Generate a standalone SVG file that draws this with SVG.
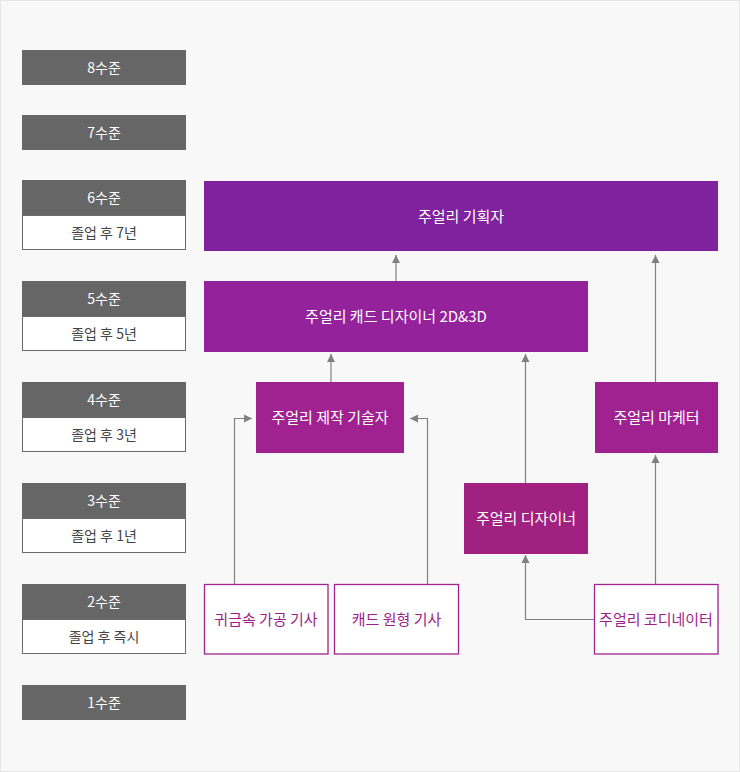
<svg xmlns="http://www.w3.org/2000/svg" width="740" height="772" viewBox="0 0 740 772">
<defs>
<style>
text{font-family:"Noto Sans CJK KR","Noto Sans",sans-serif;text-anchor:middle}
.lvh{fill:#666666}
.lvb{fill:#ffffff;stroke:#6a6a6a;stroke-width:1}
.lvt{fill:#ffffff;font-size:14px}
.lvs{fill:#444444;font-size:14px}
.pt{fill:#ffffff;font-size:15px}
.ob{fill:#ffffff;stroke:#a3238f;stroke-width:1.3}
.ot{fill:#9d1f8a;font-size:15px}
.c{fill:none;stroke:#808080;stroke-width:1.2;marker-end:url(#ah)}
</style>
<marker id="ah" markerUnits="userSpaceOnUse" markerWidth="9" markerHeight="9" refX="8" refY="4.5" orient="auto" viewBox="0 0 9 9">
<path d="M0,0.5 L8,4.5 L0,8.5 z" fill="#808080"/>
</marker>
</defs>
<rect x="0.5" y="0.5" width="739" height="771" fill="#f8f8f8" stroke="#e6e6e6" stroke-width="1"/>

<g id="level8"><rect class="lvh" x="22" y="50" width="164" height="35"/><text class="lvt" x="104" y="72.5">8수준</text></g>
<g id="level7"><rect class="lvh" x="22" y="115" width="164" height="35"/><text class="lvt" x="104" y="137.5">7수준</text></g>
<g id="level6"><rect class="lvh" x="22" y="180" width="164" height="35"/><text class="lvt" x="104" y="202.5">6수준</text><rect class="lvb" x="22.5" y="215.5" width="163" height="34"/><text class="lvs" x="104" y="237.5">졸업 후 7년</text></g>
<g id="level5"><rect class="lvh" x="22" y="281" width="164" height="35"/><text class="lvt" x="104" y="303.5">5수준</text><rect class="lvb" x="22.5" y="316.5" width="163" height="34"/><text class="lvs" x="104" y="338.5">졸업 후 5년</text></g>
<g id="level4"><rect class="lvh" x="22" y="382" width="164" height="35"/><text class="lvt" x="104" y="404.5">4수준</text><rect class="lvb" x="22.5" y="417.5" width="163" height="34"/><text class="lvs" x="104" y="439.5">졸업 후 3년</text></g>
<g id="level3"><rect class="lvh" x="22" y="483" width="164" height="35"/><text class="lvt" x="104" y="505.5">3수준</text><rect class="lvb" x="22.5" y="518.5" width="163" height="34"/><text class="lvs" x="104" y="540.5">졸업 후 1년</text></g>
<g id="level2"><rect class="lvh" x="22" y="584" width="164" height="35"/><text class="lvt" x="104" y="606.5">2수준</text><rect class="lvb" x="22.5" y="619.5" width="163" height="34"/><text class="lvs" x="104" y="641.5">졸업 후 즉시</text></g>
<g id="level1"><rect class="lvh" x="22" y="685" width="164" height="35"/><text class="lvt" x="104" y="707.5">1수준</text></g>

<g id="connectors">
<path class="c" d="M396,281 V255"/>
<path class="c" d="M655.5,382 V255"/>
<path class="c" d="M331,382 V354"/>
<path class="c" d="M525.5,483 V354"/>
<path class="c" d="M234.5,584 V418.5 H252"/>
<path class="c" d="M427.5,584 V418.5 H410"/>
<path class="c" d="M594,619.5 H525.5 V555"/>
<path class="c" d="M655.5,584 V455"/>
</g>

<g id="planner"><rect x="204" y="181" width="514" height="70" fill="#80229d"/><text class="pt" x="461" y="221.5">주얼리 기획자</text></g>
<g id="cad"><rect x="204" y="281" width="384" height="71" fill="#94229b"/><text class="pt" x="396" y="322">주얼리 캐드 디자이너 2D&amp;3D</text></g>
<g id="technician"><rect x="256" y="382" width="148" height="71" fill="#a02291"/><text class="pt" x="330" y="423">주얼리 제작 기술자</text></g>
<g id="marketer"><rect x="595" y="382" width="123" height="71" fill="#a02291"/><text class="pt" x="656.5" y="423">주얼리 마케터</text></g>
<g id="designer"><rect x="464" y="483" width="124" height="71" fill="#a0217f"/><text class="pt" x="526" y="524">주얼리 디자이너</text></g>
<g id="metal"><rect class="ob" x="204.5" y="584.5" width="123.5" height="69.5"/><text class="ot" x="266" y="625">귀금속 가공 기사</text></g>
<g id="cadmodel"><rect class="ob" x="334.5" y="584.5" width="124" height="69.5"/><text class="ot" x="396.5" y="625">캐드 원형 기사</text></g>
<g id="coordinator"><rect class="ob" x="594.5" y="584.5" width="123.5" height="69.5"/><text class="ot" x="656" y="625">주얼리 코디네이터</text></g>
</svg>
